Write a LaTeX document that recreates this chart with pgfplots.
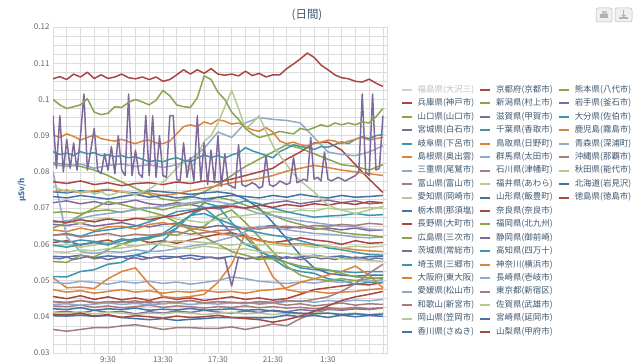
\documentclass[border=0pt]{standalone}
\usepackage{fontspec}
\setmainfont{Noto Sans CJK JP}
\usepackage{pgfplots}
\pgfplotsset{compat=1.18}
\definecolor{c0}{HTML}{4572A7}
\definecolor{c1}{HTML}{AA4643}
\definecolor{c2}{HTML}{89A54E}
\definecolor{c3}{HTML}{80699B}
\definecolor{c4}{HTML}{3D96AE}
\definecolor{c5}{HTML}{DB843D}
\definecolor{c6}{HTML}{92A8CD}
\definecolor{c7}{HTML}{A47D7C}
\definecolor{c8}{HTML}{B5CA92}
\definecolor{gridc}{HTML}{DCDCDC}
\definecolor{tickc}{HTML}{666666}
\definecolor{titlec}{HTML}{3E576F}
\definecolor{ylabc}{HTML}{4D759E}
\newcommand{\ser}[3]{\addplot[#1, forget plot] table[x expr={5.5+#2*\coordindex}, y index=0, header=false, row sep=\\] {#3};}
\newcommand{\leg}[2]{\addlegendimage{#1, line width=2bp}\addlegendentry{#2}}
\newcommand{\noleg}{\addlegendimage{empty legend}\addlegendentry{}}
\begin{document}
\begin{tikzpicture}
\begin{axis}[
  at={(0,0)}, anchor=south west, scale only axis,
  width=334bp, height=326bp,
  xmin=5.5, xmax=29.8, ymin=0.03, ymax=0.12,
  xtick={9.5,13.5,17.5,21.5,25.5},
  xticklabels={9:30,13:30,17:30,21:30,1:30},
  minor xtick={6.5,7.5,...,29.5},
  ytick={0.03,0.04,0.05,0.06,0.07,0.08,0.09,0.1,0.11,0.12},
  yticklabels={0.03,0.04,0.05,0.06,0.07,0.08,0.09,0.1,0.11,0.12},
  minor y tick num=3,
  grid=both,
  major grid style={draw=gridc, line width=0.6bp},
  minor grid style={draw=gridc, line width=0.6bp},
  tick style={draw=none},
  axis line style={draw=gridc},
  /pgf/number format/assume math mode=true,
  ticklabel style={font=\fontsize{8}{9}\selectfont, text=tickc},
  ylabel={μSv/h},
  ylabel style={font=\fontsize{8}{9}\selectfont\bfseries, text=ylabc, at={(axis description cs:-0.093,0.5)}, anchor=center},
  every axis plot/.append style={line width=1.5bp, line join=round, mark=none},
  legend image code/.code={\draw[#1, line width=2bp] (0bp,0bp) -- (10bp,0bp);},
  legend columns=3, legend cell align=left,
  legend style={at={(1.041,0.8273)}, anchor=north west, draw=none, fill=none,
    inner sep=0pt, outer sep=0pt, column sep=5bp, row sep=0pt,
    font=\fontsize{8.5}{10}\selectfont, text=titlec,
    nodes={inner sep=0pt, text height=9bp, text depth=4.44bp}},
]
% ---------------- data (drawn in series order) ----------------
% 1 兵庫
\ser{c1}{1}{0.0605\\0.061\\0.0598\\0.0606\\0.0612\\0.06\\0.0615\\0.0605\\0.061\\0.0603\\0.0612\\0.062\\0.0628\\0.0632\\0.0622\\0.0612\\0.0605\\0.061\\0.0618\\0.0612\\0.0608\\0.06\\0.061\\0.0603\\0.0605\\}
% 3 宮城
\ser{c3}{1}{0.0715\\0.072\\0.0712\\0.0718\\0.071\\0.0715\\0.0722\\0.0712\\0.0708\\0.0715\\0.071\\0.0702\\0.0698\\0.0705\\0.07\\0.0708\\0.0715\\0.072\\0.0712\\0.0718\\0.0722\\0.0715\\0.072\\0.0712\\0.0715\\}
% 7 富山
\ser{c7}{1}{0.0442\\0.0438\\0.0445\\0.044\\0.0437\\0.0443\\0.0438\\0.0442\\0.0436\\0.044\\0.0445\\0.0438\\0.0442\\0.0437\\0.044\\0.0435\\0.0438\\0.0432\\0.0436\\0.043\\0.0434\\0.0438\\0.0432\\0.0436\\0.0434\\}
% 9 栃木
\ser{c0}{1}{0.0567\\0.0565\\0.057\\0.0563\\0.0568\\0.0565\\0.057\\0.0562\\0.0567\\0.0565\\0.057\\0.0565\\0.0562\\0.0567\\0.056\\0.0565\\0.0568\\0.0562\\0.0565\\0.057\\0.0565\\0.0568\\0.0562\\0.0566\\0.0567\\}
% 10 長野
\ser{c1}{1}{0.0456\\0.045\\0.0458\\0.0448\\0.0455\\0.0447\\0.0452\\0.0445\\0.0455\\0.0448\\0.0452\\0.0445\\0.045\\0.0455\\0.0448\\0.0452\\0.0446\\0.045\\0.0462\\0.0475\\0.048\\0.0485\\0.049\\0.0488\\0.0495\\}
% 11 広島
\ser{c2}{1}{0.0825\\0.082\\0.0815\\0.0805\\0.079\\0.0772\\0.0755\\0.0738\\0.0725\\0.072\\0.073\\0.0745\\0.0765\\0.079\\0.0815\\0.0835\\0.0855\\0.0875\\0.0865\\0.085\\0.0835\\0.082\\0.0815\\0.0805\\0.082\\}
% 12 茨城
\ser{c3}{1}{0.0412\\0.0415\\0.041\\0.0418\\0.0412\\0.0415\\0.0408\\0.0414\\0.041\\0.0416\\0.0412\\0.0418\\0.0413\\0.041\\0.0416\\0.0412\\0.0418\\0.0414\\0.042\\0.0416\\0.0422\\0.0418\\0.0422\\0.042\\0.0424\\}
% 13 埼玉
\ser{c4}{1}{0.0511\\0.051\\0.0525\\0.053\\0.0545\\0.055\\0.057\\0.058\\0.061\\0.0645\\0.068\\0.07\\0.067\\0.063\\0.06\\0.0585\\0.056\\0.0535\\0.0525\\0.052\\0.0505\\0.05\\0.049\\0.0495\\0.0495\\}
% 14 大阪
\ser{c5}{1}{0.0508\\0.048\\0.0482\\0.0478\\0.0505\\0.0525\\0.0535\\0.049\\0.0456\\0.0452\\0.0456\\0.0462\\0.0495\\0.0545\\0.063\\0.0585\\0.051\\0.0475\\0.0468\\0.047\\0.0465\\0.0468\\0.047\\0.0475\\0.0478\\}
% 15 愛媛
\ser{c6}{1}{0.0495\\0.0492\\0.0498\\0.0495\\0.049\\0.0497\\0.0493\\0.0498\\0.0492\\0.0496\\0.049\\0.0495\\0.05\\0.051\\0.0505\\0.0498\\0.0495\\0.0492\\0.0496\\0.0493\\0.0498\\0.0495\\0.05\\0.0498\\0.0502\\}
% 16 和歌山
\ser{c7}{1}{0.0365\\0.036\\0.0365\\0.037\\0.037\\0.0375\\0.0378\\0.0372\\0.0365\\0.037\\0.037\\0.0368\\0.0368\\0.0372\\0.0365\\0.0372\\0.038\\0.0375\\0.0395\\0.041\\0.042\\0.042\\0.0425\\0.0422\\0.0425\\}
% 17 岡山
\ser{c8}{1}{0.0412\\0.041\\0.0414\\0.0408\\0.0412\\0.041\\0.0406\\0.041\\0.0408\\0.0412\\0.041\\0.0406\\0.041\\0.0412\\0.0408\\0.041\\0.0406\\0.041\\0.0408\\0.0412\\0.041\\0.0408\\0.041\\0.0406\\0.041\\}
% 18 香川
\ser{c0}{1}{0.0403\\0.0402\\0.0405\\0.0401\\0.0404\\0.0398\\0.0395\\0.0392\\0.0395\\0.039\\0.0393\\0.0395\\0.0398\\0.0398\\0.0398\\0.0397\\0.0398\\0.0405\\0.04\\0.0404\\0.0398\\0.0405\\0.04\\0.0404\\0.0401\\}
% 20 新潟
\ser{c2}{1}{0.0553\\0.055\\0.057\\0.0565\\0.0585\\0.06\\0.061\\0.0615\\0.063\\0.0625\\0.064\\0.065\\0.068\\0.0695\\0.066\\0.062\\0.058\\0.054\\0.0515\\0.0505\\0.05\\0.0505\\0.05\\0.0505\\0.0508\\}
% 21 滋賀
\ser{c3}{1}{0.0655\\0.0652\\0.0658\\0.065\\0.0655\\0.066\\0.0652\\0.0648\\0.0655\\0.0658\\0.065\\0.0645\\0.0652\\0.0648\\0.0642\\0.0648\\0.0652\\0.0645\\0.0648\\0.0642\\0.0645\\0.064\\0.0645\\0.0638\\0.064\\}
% 22 千葉
\ser{c4}{1}{0.0613\\0.0605\\0.0612\\0.0608\\0.0602\\0.0615\\0.061\\0.0618\\0.0625\\0.0645\\0.068\\0.0715\\0.0705\\0.066\\0.062\\0.058\\0.0565\\0.055\\0.0535\\0.053\\0.0528\\0.0525\\0.0522\\0.0525\\0.0525\\}
% 23 鳥取
\ser{c5}{1}{0.064\\0.0635\\0.0645\\0.0638\\0.0648\\0.065\\0.0642\\0.0655\\0.066\\0.0652\\0.0645\\0.0638\\0.0632\\0.0625\\0.062\\0.061\\0.0605\\0.06\\0.0602\\0.0598\\0.0595\\0.059\\0.0585\\0.0582\\0.058\\}
% 24 群馬
\ser{c6}{1}{0.08\\0.062\\0.058\\0.0575\\0.058\\0.0578\\0.0585\\0.058\\0.0582\\0.0588\\0.0595\\0.06\\0.061\\0.062\\0.0635\\0.065\\0.0645\\0.064\\0.0635\\0.063\\0.0628\\0.0625\\0.062\\0.0618\\0.062\\}
% 25 石川
\ser{c7}{1}{0.043\\0.0428\\0.0432\\0.0426\\0.043\\0.0425\\0.0428\\0.0432\\0.0426\\0.043\\0.0428\\0.0424\\0.0428\\0.0426\\0.043\\0.0425\\0.0428\\0.0424\\0.0426\\0.0422\\0.0425\\0.0422\\0.0426\\0.0422\\0.0425\\}
% 26 福井
\ser{c8}{1}{0.066\\0.0665\\0.0658\\0.0668\\0.0672\\0.0665\\0.067\\0.0675\\0.068\\0.067\\0.0665\\0.066\\0.0668\\0.0675\\0.068\\0.0685\\0.069\\0.0688\\0.0695\\0.0692\\0.07\\0.0695\\0.0698\\0.0702\\0.07\\}
% 27 山形
\ser{c0}{1}{0.0745\\0.0742\\0.0748\\0.0745\\0.075\\0.0745\\0.0742\\0.0748\\0.0745\\0.0742\\0.0738\\0.0742\\0.0745\\0.074\\0.0725\\0.07\\0.066\\0.0615\\0.057\\0.0535\\0.052\\0.0515\\0.0512\\0.0515\\0.0515\\}
% 28 奈良
\ser{c1}{1}{0.0773\\0.0768\\0.0775\\0.0765\\0.077\\0.0762\\0.0768\\0.077\\0.0765\\0.0772\\0.0768\\0.0775\\0.0772\\0.078\\0.079\\0.08\\0.081\\0.0835\\0.0855\\0.088\\0.0882\\0.086\\0.082\\0.078\\0.0743\\}
% 29 福岡
\ser{c2}{1}{0.0688\\0.069\\0.0685\\0.0692\\0.0695\\0.0688\\0.0698\\0.0702\\0.0695\\0.0705\\0.071\\0.0718\\0.073\\0.0722\\0.0708\\0.0695\\0.068\\0.0665\\0.0655\\0.0645\\0.064\\0.0632\\0.0628\\0.0625\\0.062\\}
% 30 静岡
\ser{c3}{0.5}{0.0562\\0.056\\0.0565\\0.0558\\0.0562\\0.0566\\0.056\\0.0563\\0.0558\\0.0562\\0.0565\\0.056\\0.0563\\0.0558\\0.0562\\0.0565\\0.056\\0.0562\\0.0566\\0.056\\0.0563\\0.0558\\0.0562\\0.0565\\0.056\\0.0562\\0.0485\\0.0565\\0.056\\0.0562\\0.0558\\0.0565\\0.0562\\0.056\\0.0566\\0.0562\\0.0558\\0.0562\\0.0565\\0.056\\0.0562\\0.0558\\0.0563\\0.056\\0.0565\\0.0562\\0.0558\\0.0562\\0.056\\}
% 31 高知
\ser{c4}{1}{0.0625\\0.063\\0.0622\\0.0635\\0.064\\0.0645\\0.065\\0.0662\\0.0675\\0.069\\0.0695\\0.07\\0.0705\\0.071\\0.072\\0.0712\\0.07\\0.069\\0.0682\\0.0675\\0.0678\\0.068\\0.0685\\0.068\\0.0682\\}
% 32 神奈川
\ser{c5}{1}{0.0475\\0.0468\\0.0472\\0.0465\\0.047\\0.0475\\0.0468\\0.0472\\0.0465\\0.047\\0.0468\\0.0473\\0.0468\\0.047\\0.0465\\0.0472\\0.0475\\0.048\\0.0495\\0.0505\\0.0515\\0.0525\\0.054\\0.0515\\0.048\\}
% 33 長崎
\ser{c6}{1}{0.0434\\0.0436\\0.0432\\0.0435\\0.0438\\0.0434\\0.0437\\0.0433\\0.0436\\0.0438\\0.0434\\0.0437\\0.0435\\0.0438\\0.0436\\0.044\\0.0438\\0.0442\\0.0444\\0.044\\0.0445\\0.0442\\0.0446\\0.0444\\0.0448\\}
% 34 東京
\ser{c7}{1}{0.0442\\0.044\\0.0445\\0.0438\\0.0442\\0.044\\0.0444\\0.0438\\0.0442\\0.044\\0.0445\\0.0438\\0.0442\\0.044\\0.0438\\0.0442\\0.044\\0.0445\\0.0442\\0.0448\\0.0455\\0.047\\0.0492\\0.052\\0.0545\\}
% 35 佐賀
\ser{c8}{1}{0.0595\\0.06\\0.0592\\0.0598\\0.0605\\0.06\\0.0595\\0.0602\\0.0598\\0.0592\\0.0588\\0.0595\\0.059\\0.0585\\0.0588\\0.058\\0.0578\\0.0575\\0.057\\0.0568\\0.0565\\0.056\\0.0558\\0.0555\\0.0553\\}
% 36 宮崎
\ser{c0}{1}{0.0422\\0.042\\0.0425\\0.0418\\0.0422\\0.042\\0.0424\\0.0418\\0.0421\\0.0419\\0.0423\\0.0418\\0.042\\0.0422\\0.0418\\0.042\\0.0416\\0.0412\\0.041\\0.0408\\0.041\\0.0406\\0.0408\\0.0405\\0.0407\\}
% 37 山梨
\ser{c1}{1}{0.0407\\0.0405\\0.041\\0.0402\\0.0406\\0.0398\\0.0403\\0.04\\0.0396\\0.0402\\0.0398\\0.04\\0.0404\\0.0398\\0.0395\\0.0392\\0.0385\\0.0392\\0.0402\\0.0415\\0.043\\0.0445\\0.0455\\0.0462\\0.047\\}
% 38 熊本
\ser{c2}{1}{0.0645\\0.066\\0.068\\0.07\\0.0718\\0.071\\0.07\\0.069\\0.068\\0.066\\0.064\\0.062\\0.06\\0.058\\0.057\\0.056\\0.056\\0.055\\0.054\\0.0535\\0.053\\0.052\\0.051\\0.0508\\0.0505\\}
% 40 大分
\ser{c4}{1}{0.0598\\0.0592\\0.06\\0.0605\\0.0598\\0.061\\0.0615\\0.062\\0.063\\0.0655\\0.068\\0.0685\\0.067\\0.0655\\0.064\\0.0632\\0.0625\\0.062\\0.061\\0.06\\0.059\\0.0585\\0.0578\\0.0572\\0.057\\}
% 41 鹿児島
\ser{c5}{1}{0.0745\\0.075\\0.0742\\0.0748\\0.0752\\0.0745\\0.0738\\0.0742\\0.0735\\0.074\\0.0748\\0.0755\\0.0762\\0.077\\0.0775\\0.0782\\0.079\\0.0802\\0.081\\0.0818\\0.0812\\0.0805\\0.08\\0.0795\\0.079\\}
% 42 青森
\ser{c6}{1}{0.066\\0.0665\\0.0672\\0.068\\0.0685\\0.069\\0.0695\\0.07\\0.0705\\0.071\\0.0715\\0.072\\0.0718\\0.071\\0.0698\\0.0685\\0.068\\0.0672\\0.0665\\0.066\\0.0655\\0.065\\0.0648\\0.0642\\0.064\\}
% 43 沖縄
\ser{c7}{1}{0.0625\\0.0628\\0.062\\0.0625\\0.063\\0.0622\\0.0628\\0.0625\\0.063\\0.0635\\0.0628\\0.0632\\0.0638\\0.064\\0.0645\\0.0642\\0.0648\\0.065\\0.0645\\0.0652\\0.065\\0.0655\\0.0652\\0.0658\\0.0655\\}
% 44 秋田
\ser{c8}{1}{0.058\\0.0578\\0.0585\\0.0582\\0.0588\\0.059\\0.0595\\0.06\\0.0605\\0.061\\0.0608\\0.0605\\0.06\\0.0598\\0.0602\\0.0598\\0.06\\0.0595\\0.0598\\0.0592\\0.0595\\0.059\\0.0595\\0.0592\\0.0595\\}
% 45 北海道
\ser{c0}{1}{0.0732\\0.0728\\0.0735\\0.073\\0.0725\\0.0732\\0.0738\\0.073\\0.0735\\0.0728\\0.0732\\0.0725\\0.073\\0.0735\\0.0732\\0.0728\\0.0735\\0.073\\0.0738\\0.0732\\0.0728\\0.0735\\0.073\\0.0732\\0.0735\\}
% 46 徳島
\ser{c1}{1}{0.0665\\0.066\\0.0668\\0.0662\\0.067\\0.0665\\0.0672\\0.0668\\0.0675\\0.068\\0.069\\0.0698\\0.0702\\0.0705\\0.07\\0.0708\\0.0702\\0.071\\0.0705\\0.0712\\0.0708\\0.0715\\0.071\\0.0718\\0.0715\\}
% 6 三重
\ser{c6}{1}{0.082\\0.0815\\0.0822\\0.081\\0.0818\\0.0822\\0.0815\\0.082\\0.0812\\0.082\\0.0835\\0.0865\\0.091\\0.0895\\0.0935\\0.095\\0.0945\\0.0942\\0.0935\\0.0895\\0.0855\\0.0848\\0.0845\\0.0855\\0.0872\\}
% 4 岐阜
\ser{c4}{0.5}{0.0856\\0.0848\\0.0852\\0.0845\\0.0856\\0.085\\0.0853\\0.0845\\0.0847\\0.0842\\0.0845\\0.0839\\0.0842\\0.0835\\0.0828\\0.0832\\0.0828\\0.0835\\0.0839\\0.0832\\0.0828\\0.0838\\0.0847\\0.084\\0.0845\\0.0838\\0.0847\\0.0852\\0.0867\\0.0858\\0.0852\\0.0845\\0.0839\\0.0856\\0.0865\\0.0875\\0.087\\0.0867\\0.0862\\0.087\\0.0868\\0.0875\\0.0883\\0.0878\\0.089\\0.0897\\0.0892\\0.09\\0.0903\\}
% 5 島根
\ser{c5}{0.5}{0.0902\\0.0895\\0.0905\\0.0898\\0.0888\\0.0895\\0.0902\\0.0892\\0.0888\\0.0885\\0.089\\0.0883\\0.0878\\0.0885\\0.0888\\0.088\\0.0878\\0.0885\\0.0905\\0.0925\\0.093\\0.0925\\0.0938\\0.0932\\0.0944\\0.094\\0.0932\\0.0935\\0.0925\\0.0916\\0.0912\\0.0922\\0.091\\0.0885\\0.0878\\0.0882\\0.0875\\0.0872\\0.0878\\0.0882\\0.0888\\0.0885\\0.0878\\0.0885\\0.089\\0.0895\\0.0888\\0.0892\\0.0895\\}
% 8 愛知
\ser{c8}{0.5}{0.076\\0.0752\\0.0745\\0.075\\0.0742\\0.0748\\0.0738\\0.0745\\0.0735\\0.074\\0.0748\\0.0742\\0.0738\\0.0745\\0.0752\\0.0765\\0.077\\0.079\\0.081\\0.0828\\0.0805\\0.0845\\0.0885\\0.09\\0.0935\\0.098\\0.1025\\0.0975\\0.092\\0.0935\\0.0955\\0.0912\\0.0872\\0.0845\\0.082\\0.0795\\0.0775\\0.076\\0.0745\\0.0725\\0.071\\0.07\\0.0695\\0.069\\0.0685\\0.069\\0.0695\\0.07\\0.0705\\}
% 39 岩手
\ser{c3}{0.25}{0.0955\\0.081\\0.0955\\0.08\\0.089\\0.081\\0.088\\0.0805\\0.09\\0.1015\\0.0805\\0.086\\0.092\\0.0805\\0.0795\\0.085\\0.0805\\0.087\\0.0795\\0.09\\0.0805\\0.079\\0.1015\\0.079\\0.086\\0.0795\\0.0785\\0.0955\\0.079\\0.0955\\0.0785\\0.09\\0.079\\0.0785\\0.0955\\0.0955\\0.078\\0.0775\\0.088\\0.0785\\0.084\\0.0775\\0.0955\\0.0775\\0.088\\0.0765\\0.086\\0.077\\0.09\\0.076\\0.085\\0.0765\\0.076\\0.0755\\0.0875\\0.0765\\0.076\\0.0765\\0.077\\0.0765\\0.0755\\0.076\\0.0845\\0.0765\\0.076\\0.0765\\0.0775\\0.077\\0.0765\\0.077\\0.084\\0.077\\0.0775\\0.078\\0.0775\\0.0895\\0.078\\0.0785\\0.0775\\0.0855\\0.078\\0.0775\\0.078\\0.0785\\0.078\\0.0775\\0.078\\0.0785\\0.079\\0.08\\0.1015\\0.08\\0.079\\0.1015\\0.0805\\0.081\\0.0955\\}
% 2 山口
\ser{c2}{0.5}{0.1\\0.0985\\0.0975\\0.098\\0.0985\\0.1002\\0.0965\\0.0958\\0.0962\\0.098\\0.0978\\0.0992\\0.1\\0.0993\\0.0985\\0.0998\\0.1025\\0.101\\0.0985\\0.098\\0.0978\\0.1005\\0.1065\\0.1055\\0.102\\0.1\\0.0965\\0.0945\\0.092\\0.0905\\0.0895\\0.09\\0.0905\\0.0912\\0.0908\\0.0905\\0.092\\0.0915\\0.0922\\0.093\\0.0925\\0.0935\\0.093\\0.0935\\0.093\\0.0938\\0.0935\\0.0952\\0.0975\\}
% 19 京都
\ser{c1}{0.5}{0.1057\\0.1063\\0.1055\\0.107\\0.1062\\0.1075\\0.1058\\0.1068\\0.1058\\0.1062\\0.107\\0.106\\0.1057\\0.1062\\0.1055\\0.1062\\0.105\\0.1055\\0.1068\\0.1082\\0.107\\0.1082\\0.1072\\0.1085\\0.107\\0.1067\\0.107\\0.1065\\0.1078\\0.1066\\0.1072\\0.1062\\0.1068\\0.1068\\0.1085\\0.1098\\0.1112\\0.1128\\0.1116\\0.1095\\0.1082\\0.1068\\0.106\\0.1057\\0.105\\0.1048\\0.1056\\0.1045\\0.1036\\}
% ---------------- legend (row-major, 3 columns) ----------------
\addlegendimage{color=gray!35, line width=2bp}\addlegendentry{\textcolor{gray!50}{福島県(大沢三)}}
\leg{c1}{京都府(京都市)}\leg{c2}{熊本県(八代市)}
\leg{c1}{兵庫県(神戸市)}\leg{c2}{新潟県(村上市)}\leg{c3}{岩手県(釜石市)}
\leg{c2}{山口県(山口市)}\leg{c3}{滋賀県(甲賀市)}\leg{c4}{大分県(佐伯市)}
\leg{c3}{宮城県(白石市)}\leg{c4}{千葉県(香取市)}\leg{c5}{鹿児島(霧島市)}
\leg{c4}{岐阜県(下呂市)}\leg{c5}{鳥取県(日野町)}\leg{c6}{青森県(深浦町)}
\leg{c5}{島根県(奥出雲)}\leg{c6}{群馬県(太田市)}\leg{c7}{沖縄県(那覇市)}
\leg{c6}{三重県(尾鷲市)}\leg{c7}{石川県(津幡町)}\leg{c8}{秋田県(能代市)}
\leg{c7}{富山県(富山市)}\leg{c8}{福井県(あわら)}\leg{c0}{北海道(岩見沢)}
\leg{c8}{愛知県(岡崎市)}\leg{c0}{山形県(飯豊町)}\leg{c1}{徳島県(徳島市)}
\leg{c0}{栃木県(那須塩)}\leg{c1}{奈良県(奈良市)}\noleg
\leg{c1}{長野県(大町市)}\leg{c2}{福岡県(北九州)}\noleg
\leg{c2}{広島県(三次市)}\leg{c3}{静岡県(御前崎)}\noleg
\leg{c3}{茨城県(常総市)}\leg{c4}{高知県(四万十)}\noleg
\leg{c4}{埼玉県(三郷市)}\leg{c5}{神奈川(横浜市)}\noleg
\leg{c5}{大阪府(東大阪)}\leg{c6}{長崎県(壱岐市)}\noleg
\leg{c6}{愛媛県(松山市)}\leg{c7}{東京都(新宿区)}\noleg
\leg{c7}{和歌山(新宮市)}\leg{c8}{佐賀県(武雄市)}\noleg
\leg{c8}{岡山県(笠岡市)}\leg{c0}{宮崎県(延岡市)}\noleg
\leg{c0}{香川県(さぬき)}\leg{c1}{山梨県(甲府市)}
\end{axis}
\node[font=\fontsize{11.5}{13}\selectfont, text=titlec] at (254bp,338bp) {(日間)};
\draw[gray!55, fill=gray!12, rounded corners=2bp, line width=0.5bp] (543bp,331bp) rectangle (559bp,345bp);
\draw[gray!55, fill=gray!12, rounded corners=2bp, line width=0.5bp] (562bp,331bp) rectangle (579bp,345bp);
\fill[gray!60] (547bp,335bp) rectangle (555bp,339bp);
\fill[gray!45] (548.5bp,339bp) rectangle (553.5bp,342bp);
\fill[gray!60] (566bp,334bp) rectangle (575bp,335.5bp);
\draw[gray!60, line width=1.2bp] (570.5bp,342.5bp) -- (570.5bp,337bp);
\fill[gray!60] (568bp,338bp) -- (573bp,338bp) -- (570.5bp,335.5bp) -- cycle;
\pgfresetboundingbox
\path[use as bounding box] (-53bp,-11bp) rectangle (587bp,353bp);
\end{tikzpicture}
\end{document}
